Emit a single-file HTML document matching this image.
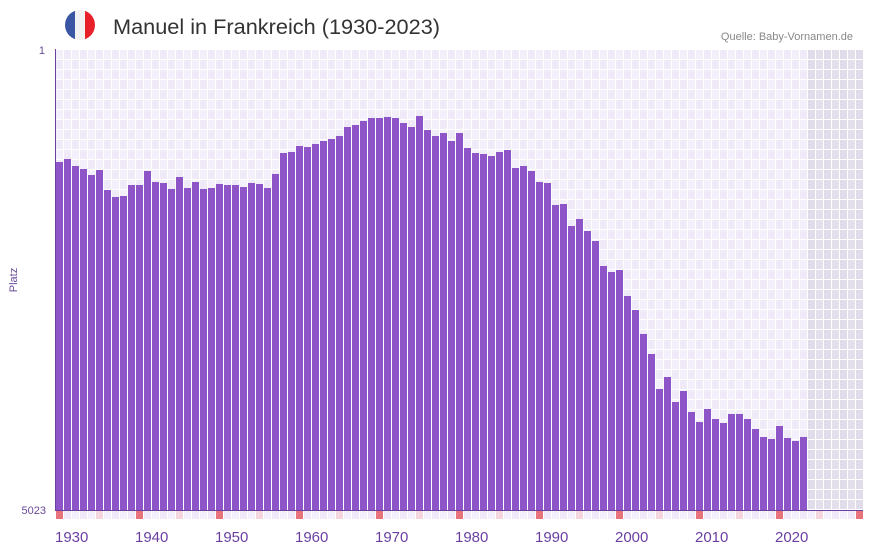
<!DOCTYPE html>
<html><head><meta charset="utf-8"><style>
body{margin:0;background:#fff;font-family:"Liberation Sans",sans-serif;}
</style></head><body>
<svg id="s" width="873" height="552" xmlns="http://www.w3.org/2000/svg" style="display:block">
<defs><clipPath id="fc"><circle cx="80" cy="25" r="15"/></clipPath></defs>
<g clip-path="url(#fc)"><rect x="65" y="10" width="10" height="30" fill="#3a55a4"/><rect x="75" y="10" width="10" height="30" fill="#f2f2f2"/><rect x="85" y="10" width="10" height="30" fill="#e8202a"/></g>
<text x="113" y="34" font-size="21" fill="#333" textLength="327" lengthAdjust="spacingAndGlyphs">Manuel in Frankreich (1930-2023)</text>
<text x="853" y="40" font-size="11" fill="#888" text-anchor="end">Quelle: Baby-Vornamen.de</text>
<text x="45" y="54" font-size="11" fill="#6a4a9a" text-anchor="end">1</text>
<text x="46" y="514" font-size="11" fill="#6a4a9a" text-anchor="end">5023</text>
<text transform="translate(17,280) rotate(-90)" font-size="11" fill="#6a4a9a" text-anchor="middle">Platz</text>
<g id="g"></g>
</svg>
<script>
var tops=[162,159,166,169,175,170,190,197,196,185,185,171,182,183,189,177,188,182,189,188,184,185,185,187,183,184,188,174,153,152,146,147,144,141,139,136,127,125,121,118,118,117,118,123,127,116,130,136,133,141,133,148,153,154,156,152,150,168,166,171,182,183,205,204,226,219,231,241,266,272,270,296,310,334,354,389,377,402,391,412,422,409,419,423,414,414,419,429,437,439,426,438,441,437];
var h='';
for(var c=0;c<101;c++){var x=56+c*8;if(x>=863)break;var w=Math.min(7,863-x);
 for(var r=0;r<46;r++){var y=50+r*10;var hh=Math.min(9,510-y);if(hh<=0)break;
  var f=c>=94?((c%2)?'#e3dfeb':'#e0dcea'):(((c+r)%2)?'#efe9f8':'#f4f0fb');
  h+='<rect x="'+x+'" y="'+y+'" width="'+w+'" height="'+hh+'" fill="'+f+'"/>';}
 var m=(c%10==0)?'#e8737a':(c%10==5)?'#f5d6df':((c%2)?'#efe9f8':'#f4f0fb');
 h+='<rect x="'+x+'" y="511" width="'+w+'" height="8" fill="'+m+'"/>';
}
for(var i=0;i<tops.length;i++){h+='<rect x="'+(56+i*8)+'" y="'+tops[i]+'" width="7" height="'+(510-tops[i])+'" fill="#8e55c8"/>';}
h+='<line x1="55.5" y1="49" x2="55.5" y2="510" stroke="#6a3fa0" stroke-width="1"/>';
h+='<line x1="55" y1="510.5" x2="863" y2="510.5" stroke="#6a3fa0" stroke-width="1"/>';
for(var d=0;d<10;d++){h+='<text x="'+(55+d*80)+'" y="542" font-size="15" fill="#6a3fa0">'+(1930+d*10)+'</text>';}
document.getElementById('g').innerHTML=h;
</script>
</body></html>
